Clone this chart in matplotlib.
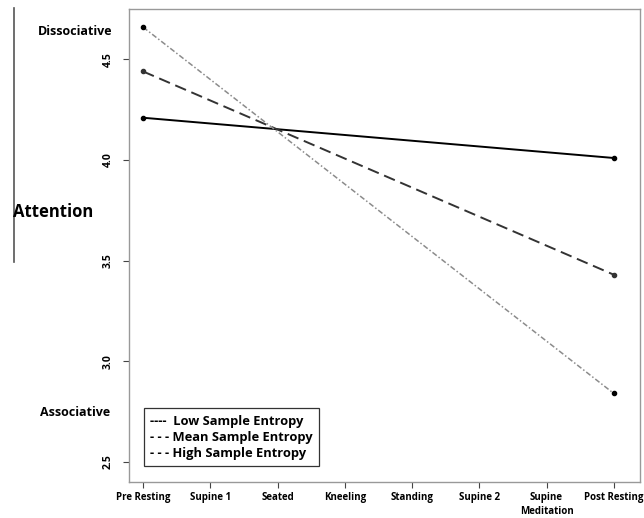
import matplotlib
matplotlib.use("Agg")
import matplotlib.pyplot as plt
from matplotlib.lines import Line2D

categories = ["Pre Resting", "Supine 1", "Seated", "Kneeling", "Standing",
              "Supine 2", "Supine\nMeditation", "Post Resting"]
series_names = ["Low Sample Entropy", "Mean Sample Entropy", "High Sample Entropy"]
low_values = [4.21, 4.01]
mean_values = [4.44, 3.43]
high_values = [4.66, 2.84]
yticks = [2.5, 3.0, 3.5, 4.0, 4.5]

plt.rcParams['font.family'] = ['Open Sans', 'DejaVu Sans']

fig = plt.figure(figsize=(6.44, 5.18), dpi=100)
ax = fig.add_axes([0.2003, 0.0695, 0.7935, 0.913])

end_x = [0, len(categories) - 1]
ax.plot(end_x, low_values, color="black", lw=1.4, marker="o", ms=3)
ax.plot(end_x, mean_values, color="#333333", lw=1.4, dashes=(6, 3), marker="o", ms=3)
ax.plot(end_x, high_values, color="#8c8c8c", lw=1.1, dashes=(3.5, 1.5, 1, 1.5),
        marker="o", ms=3, mfc="black", mec="black")

ax.set_xlim(-0.21, 7.39)
ax.set_ylim(2.40, 4.75)
ax.set_xticks(range(len(categories)))
ax.set_xticklabels(categories, fontsize=7, fontweight="bold", linespacing=1.3)
ax.set_yticks(yticks)
ax.set_yticklabels([f"{v:.1f}" for v in yticks], rotation=90, va="center",
                   fontsize=7.5, fontweight="bold")
ax.tick_params(axis="both", length=4, width=0.8, color="#444444")
ax.tick_params(axis="y", pad=7)
for s in ax.spines.values():
    s.set_color("#999999")
    s.set_linewidth(1.0)

# legend as text labels in a box
leg_labels = ["----  " + series_names[0], "- - - " + series_names[1], "- - - " + series_names[2]]
handles = [Line2D([], [], linestyle="none") for _ in leg_labels]
leg = ax.legend(handles, leg_labels, loc="lower left",
                bbox_to_anchor=(0.016, 0.020), handlelength=0, handletextpad=0,
                prop={"weight": "bold", "size": 9.3}, frameon=True, fancybox=False,
                edgecolor="black", borderpad=0.5, labelspacing=0.22)
leg.get_frame().set_linewidth(0.9)

# left side annotations
fig.add_artist(Line2D([0.022, 0.022], [0.984, 0.494], color="#555555", lw=1.2))
fig.text(0.116, 0.940, "Dissociative", fontsize=9, fontweight="bold", ha="center", va="center")
fig.text(0.020, 0.590, "Attention", fontsize=12, fontweight="bold", ha="left", va="center")
fig.text(0.116, 0.203, "Associative", fontsize=9, fontweight="bold", ha="center", va="center")

fig.savefig("out.png", dpi=100)
